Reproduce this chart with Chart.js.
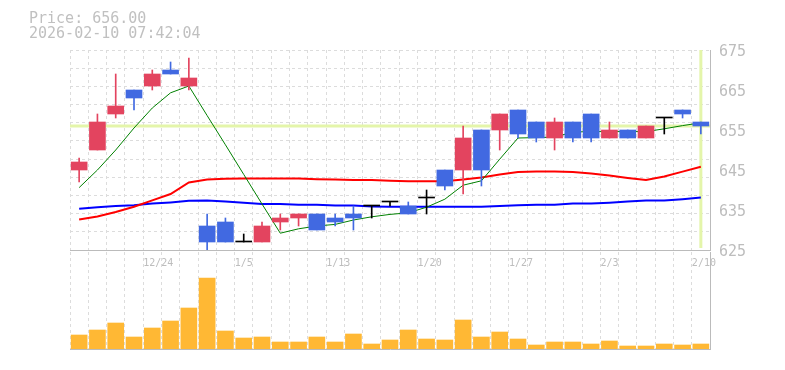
<!DOCTYPE html>
<html>
<head>
<meta charset="utf-8">
<script src="https://cdn.jsdelivr.net/npm/chart.js@4.4.1/dist/chart.umd.min.js"></script>
<style>
  body { margin: 0; background: #fff; overflow: hidden; }
  #wrap { position: relative; width: 785px; height: 370px; }
  #wrap canvas { position: absolute; left: 0; top: 0; }
  #info {
    position: absolute; left: 29px; top: 11px;
    font: 15px/15.3px 'DejaVu Sans Mono', monospace;
    color: #c0c0c0; white-space: pre;
  }
</style>
</head>
<body>
<div id="wrap">
  <canvas id="volChart" width="785" height="370"></canvas>
  <canvas id="priceChart" width="785" height="370"></canvas>
  <div id="info">Price: 656.00
2026-02-10 07:42:04</div>
</div>
<script>
// fechas (días hábiles)
const dates = ['12/18','12/19','12/22','12/23','12/24','12/25','12/26','12/29','12/30',
  '1/5','1/6','1/7','1/8','1/9','1/13','1/14','1/15','1/16','1/19','1/20','1/21','1/22','1/23',
  '1/26','1/27','1/28','1/29','1/30','2/2','2/3','2/4','2/5','2/6','2/9','2/10'];
const shownDates = ['12/24','1/5','1/13','1/20','1/27','2/3','2/10'];

// velas
const opens  = [645,650,659,665,666,670,666,631,632,627,627,632,633,634,633,634,636,637,636,638,645,645,655,655,660,657,653,657,659,653,655,653,658,660,657];
const closes = [647,657,661,663,669,669,668,627,627,627,631,633,634,630,632,633,636,637,634,638,641,653,645,659,654,653,657,653,653,655,653,656,658,659,656];
const highs  = [648,659,669,665,670,672,673,634,633,629,632,634,634,634,634,636,636,637,637,640,645,656,655,659,660,657,658,657,659,657,655,656,658,660,657];
const lows   = [642,650,658,660,665,669,665,625,627,627,627,630,631,630,631,630,633,636,634,634,640,639,641,650,653,652,650,652,652,653,653,653,654,658,654];

// medias móviles
const ma5  = [640.6,645.0,650.0,655.5,660.5,664.3,666.0,658.6,651.3,643.9,636.5,629.2,630.3,631.0,631.4,632.5,633.3,633.9,634.3,635.7,637.7,641.2,642.3,647.7,653.0,653.1,653.2,654.5,654.6,654.6,654.6,654.6,655.3,656.1,656.8];
const ma25 = [632.6,633.4,634.5,635.8,637.4,639.0,641.9,642.6,642.8,642.9,642.9,642.9,642.9,642.7,642.6,642.5,642.5,642.3,642.2,642.2,642.2,642.6,643.1,643.9,644.5,644.6,644.6,644.5,644.1,643.6,643.0,642.5,643.4,644.6,645.8];
const ma75 = [635.3,635.7,636.0,636.2,636.6,636.9,637.3,637.4,637.1,636.8,636.5,636.5,636.3,636.3,636.1,636.1,635.9,635.8,635.8,635.8,635.8,635.8,635.8,636.0,636.2,636.3,636.3,636.6,636.6,636.8,637.1,637.4,637.4,637.7,638.1];

// volumen (miles)
const volumes = [14,19,26,12,21,28,41,71,18,11,12,7,7,12,7,15,5,9,19,10,9,29,12,17,10,4,7,7,5,8,3,3,5,4,5];

const lastPrice = 656.00;
const priceTicks = [625, 675, 10]; // min, max, paso

// colores
const UP = '#e3445f';
const DOWN = '#4169e1';
const FLAT = '#000000';
const gridColor = '#dcdcdc';
const axisColor = '#bbbbbb';
const labelColor = '#bdbdbd';

const candleColors = opens.map((o, i) => closes[i] > o ? UP : (closes[i] < o ? DOWN : FLAT));

// línea del último precio (fondo)
const lastMark = {
  id: 'lastMark',
  beforeDatasetsDraw(chart) {
    const { ctx, chartArea: a, scales: { x, y } } = chart;
    const py = y.getPixelForValue(lastPrice);
    const px = x.getPixelForValue(dates.length - 1);
    ctx.save();
    ctx.fillStyle = '#e4f5aa';
    ctx.fillRect(a.left, py - 1.5, a.right - a.left, 3);
    ctx.fillRect(px - 1.5, a.top, 3, a.bottom - a.top - 2);
    ctx.restore();
  }
};

// Gráfico de precio
new Chart(document.getElementById('priceChart'), {
  type: 'bar',
  data: {
    labels: dates,
    datasets: [
      {
        type: 'bar', label: 'body',
        data: opens.map((o, i) => [o, closes[i]]),
        backgroundColor: candleColors,
        barThickness: 16, minBarLength: 1, grouped: false, order: 1
      },
      {
        type: 'bar', label: 'wick',
        data: lows.map((l, i) => [l, highs[i]]),
        backgroundColor: candleColors,
        barThickness: 1, grouped: false, order: 2
      },
      { type: 'line', label: 'MA5', data: ma5, borderColor: '#008000', borderWidth: 1, pointRadius: 0, order: 3 },
      { type: 'line', label: 'MA25', data: ma25, borderColor: '#ff0000', borderWidth: 2, pointRadius: 0, order: 4 },
      { type: 'line', label: 'MA75', data: ma75, borderColor: '#0000ff', borderWidth: 2, pointRadius: 0, order: 5 }
    ]
  },
  options: {
    responsive: false,
    animation: false,
    events: [],
    layout: { padding: { left: 70, top: 50 } },
    plugins: { legend: { display: false }, tooltip: { enabled: false } },
    scales: {
      x: {
        offset: true,
        grid: { offset: true, color: gridColor, drawTicks: false },
        border: { color: axisColor, dash: [3, 3] },
        ticks: {
          autoSkip: false, maxRotation: 0, minRotation: 0,
          align: 'start', labelOffset: -9, padding: 7,
          color: labelColor,
          font: { family: 'DejaVu Sans Mono', size: 10 },
          callback: function (v, i) { return shownDates.includes(dates[i]) ? dates[i] : ''; }
        },
        afterFit: function (s) { s.height = 120; }
      },
      y: {
        position: 'right',
        min: priceTicks[0], max: priceTicks[1],
        grid: { display: false, drawTicks: false },
        border: { color: axisColor },
        ticks: {
          stepSize: priceTicks[2], padding: 9, labelOffset: 2,
          color: labelColor,
          font: { family: 'DejaVu Sans Mono', size: 15 }
        },
        afterFit: function (s) { s.width = 75; }
      },
      yg: {
        position: 'left',
        min: 0, max: 11,
        grid: { color: gridColor, drawTicks: false },
        border: { display: false, dash: [3, 3] },
        ticks: { display: false, stepSize: 1 },
        afterFit: function (s) { s.width = 0; }
      }
    }
  },
  plugins: [lastMark]
});

// Gráfico de volumen
new Chart(document.getElementById('volChart'), {
  type: 'bar',
  data: {
    labels: dates,
    datasets: [{
      label: 'Volume',
      data: volumes,
      backgroundColor: '#ffb834',
      barThickness: 16
    }]
  },
  options: {
    responsive: false,
    animation: false,
    events: [],
    layout: { padding: { left: 70, top: 252 } },
    plugins: { legend: { display: false }, tooltip: { enabled: false } },
    scales: {
      x: {
        offset: true,
        grid: { offset: true, color: gridColor, drawTicks: false },
        border: { color: axisColor, dash: [3, 3] },
        ticks: { display: false },
        afterFit: function (s) { s.height = 21; }
      },
      y: {
        position: 'right',
        min: 0, max: 97,
        grid: { display: false, drawTicks: false },
        border: { color: axisColor },
        ticks: { display: false },
        afterFit: function (s) { s.width = 75; }
      }
    }
  }
});
</script>
</body>
</html>
